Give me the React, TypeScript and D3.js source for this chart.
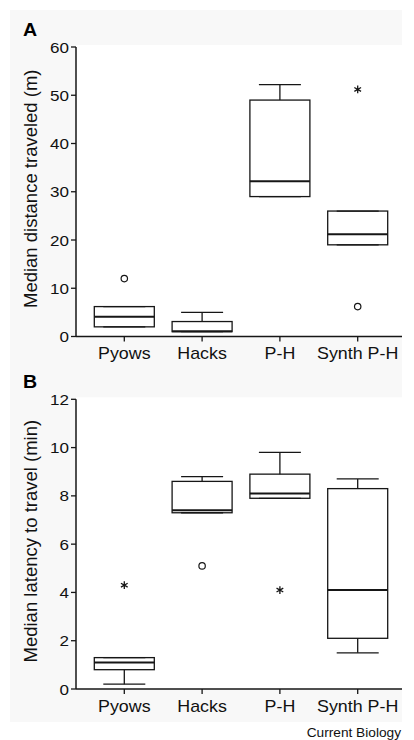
import React from 'react';
import * as d3 from 'd3';

const categories = ['Pyows', 'Hacks', 'P-H', 'Synth P-H'];

// Panel A: median distance traveled (m)
const distLow = [2, 1, 29, 19];
const distQ1 = [2, 1, 29, 19];
const distMedian = [4.1, 1.1, 32.2, 21.2];
const distQ3 = [6.2, 3.1, 49, 26];
const distHigh = [6.2, 5, 52.2, 26];
const distOutlierCat = ['Pyows', 'Synth P-H', 'Synth P-H'];
const distOutlierVal = [12, 51.2, 6.2];
const distOutlierKind = ['circle', 'star', 'circle'];
const distTicks = [0, 10, 20, 30, 40, 50, 60];

// Panel B: median latency to travel (min)
const latLow = [0.2, 7.3, 7.9, 1.5];
const latQ1 = [0.8, 7.3, 7.9, 2.1];
const latMedian = [1.1, 7.4, 8.1, 4.1];
const latQ3 = [1.3, 8.6, 8.9, 8.3];
const latHigh = [1.3, 8.8, 9.8, 8.7];
const latOutlierCat = ['Pyows', 'Hacks', 'P-H'];
const latOutlierVal = [4.3, 5.1, 4.1];
const latOutlierKind = ['star', 'circle', 'star'];
const latTicks = [0, 2, 4, 6, 8, 10, 12];

const FONT = '"Liberation Sans", Arial, Helvetica, sans-serif';
const INK = '#161616';

const x = d3.scalePoint<string>().domain(categories).range([85.4, 396.6]).padding(0.5);
const star = d3.symbol().type(d3.symbolAsterisk).size(42)() || '';

interface PanelProps {
  letter: string;
  letterY: number;
  label: string;
  y: d3.ScaleLinear<number, number>;
  ticks: number[];
  low: number[];
  q1: number[];
  median: number[];
  q3: number[];
  high: number[];
  outCat: string[];
  outVal: number[];
  outKind: string[];
}

const Panel: React.FC<PanelProps> = ({ letter, letterY, label, y, ticks, low, q1, median, q3, high, outCat, outVal, outKind }) => {
  const [y0, yTop] = y.range();
  const axisX = 76;
  const axisEnd = 402;
  const boxHalf = 30;
  const capHalf = 21;
  return (
    <g>
      <rect x={axisX} y={yTop - 2} width={axisEnd - axisX} height={y0 - yTop + 2} fill="#fff" />
      <text transform={`translate(23, ${letterY}) scale(1.12, 1)`} fontFamily={FONT} fontWeight="bold" fontSize={17.5} fill="#000">{letter}</text>
      <text
        transform={`translate(36.5, ${(y0 + yTop) / 2 - 3}) rotate(-90)`}
        textAnchor="middle" fontFamily={FONT} fontSize={18.5} fill="#111">{label}</text>

      {/* y axis */}
      <line x1={axisX} x2={axisX} y1={yTop} y2={y0} stroke={INK} strokeWidth={1.5} />
      {ticks.map(t => (
        <g key={t}>
          <line x1={axisX - 5} x2={axisX} y1={y(t)} y2={y(t)} stroke={INK} strokeWidth={1.3} />
          <text transform={`translate(69, ${y(t)}) scale(1.1, 1)`} dy="0.36em" textAnchor="end" fontFamily={FONT} fontSize={15.5} fill="#111">{t}</text>
        </g>
      ))}

      {/* x axis */}
      <line x1={axisX} x2={axisEnd} y1={y0} y2={y0} stroke={INK} strokeWidth={1.5} />
      {categories.map(c => (
        <g key={c}>
          <line x1={x(c)} x2={x(c)} y1={y0} y2={y0 + 5} stroke={INK} strokeWidth={1.3} />
          <text transform={`translate(${x(c)}, ${y0 + 22.5}) scale(1.05, 1)`} textAnchor="middle" fontFamily={FONT} fontSize={17} fill="#111">{c}</text>
        </g>
      ))}

      {/* boxes */}
      {categories.map((c, i) => {
        const cx = x(c) || 0;
        return (
          <g key={c} stroke={INK} fill="none">
            <line x1={cx} x2={cx} y1={y(q3[i])} y2={y(high[i])} strokeWidth={1.3} />
            <line x1={cx} x2={cx} y1={y(q1[i])} y2={y(low[i])} strokeWidth={1.3} />
            <line x1={cx - capHalf} x2={cx + capHalf} y1={y(high[i])} y2={y(high[i])} strokeWidth={1.3} />
            <line x1={cx - capHalf} x2={cx + capHalf} y1={y(low[i])} y2={y(low[i])} strokeWidth={1.3} />
            <rect x={cx - boxHalf} y={y(q3[i])} width={boxHalf * 2} height={y(q1[i]) - y(q3[i])} strokeWidth={1.3} />
            <line x1={cx - boxHalf} x2={cx + boxHalf} y1={y(median[i])} y2={y(median[i])} strokeWidth={2} />
          </g>
        );
      })}

      {/* outliers */}
      {outVal.map((v, i) => {
        const cx = x(outCat[i]) || 0;
        return outKind[i] === 'circle'
          ? <circle key={i} cx={cx} cy={y(v)} r={3.2} fill="none" stroke={INK} strokeWidth={1.2} />
          : <path key={i} d={star} transform={`translate(${cx}, ${y(v)})`} fill="none" stroke={INK} strokeWidth={1.3} />;
      })}
    </g>
  );
};

export default function App() {
  const yDist = d3.scaleLinear().domain([0, 60]).range([336.5, 47]);
  const yLat = d3.scaleLinear().domain([0, 12]).range([689, 399.3]);
  return (
    <div style={{ position: 'absolute', left: 0, top: 0 }}>
      <svg width={414} height={740} style={{ display: 'block', background: '#fff' }}>
        <rect x={10} y={10} width={392} height={712} fill="#f8f8f8" />
        <Panel letter="A" letterY={36} label="Median distance traveled (m)" y={yDist} ticks={distTicks}
          low={distLow} q1={distQ1} median={distMedian} q3={distQ3} high={distHigh}
          outCat={distOutlierCat} outVal={distOutlierVal} outKind={distOutlierKind} />
        <Panel letter="B" letterY={388} label="Median latency to travel (min)" y={yLat} ticks={latTicks}
          low={latLow} q1={latQ1} median={latMedian} q3={latQ3} high={latHigh}
          outCat={latOutlierCat} outVal={latOutlierVal} outKind={latOutlierKind} />
        <text x={401} y={736.5} textAnchor="end" fontFamily={FONT} fontSize={13.7} fill="#111">Current Biology</text>
      </svg>
    </div>
  );
}
